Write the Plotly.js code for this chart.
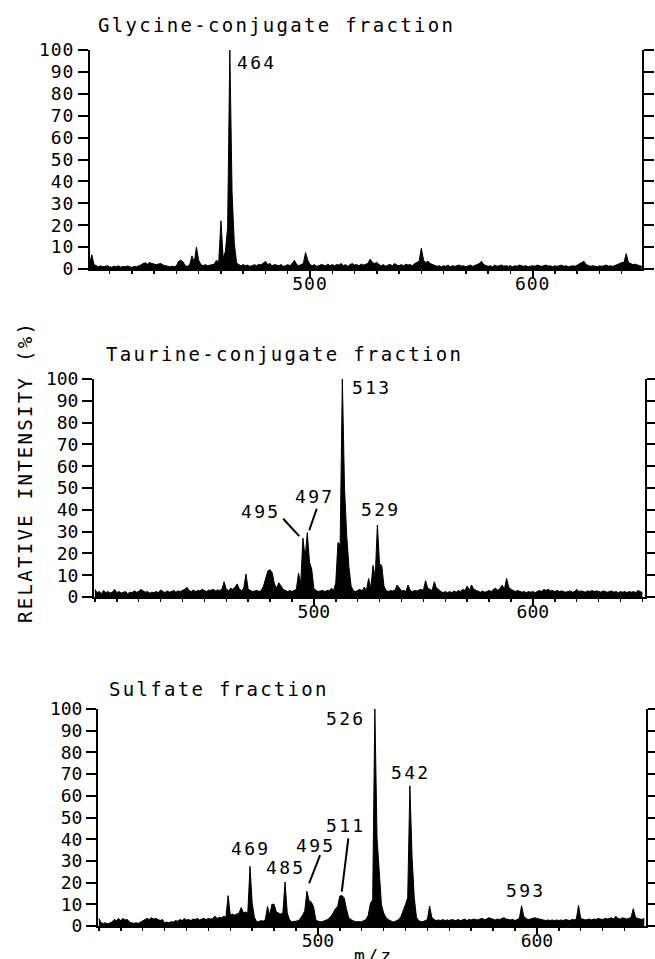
<!DOCTYPE html>
<html><head><meta charset="utf-8">
<script src="https://cdn.plot.ly/plotly-3.0.1.min.js"></script>
<style>
html,body{margin:0;padding:0;background:#fff;}
#chart{width:655px;height:959px;}
text.annotation-text{letter-spacing:2.3px;}
.xtick text,.ytick text{letter-spacing:1px;}
</style></head><body><div id="chart"></div>
<script>
// ---------- data (relative intensity %, one value per integer m/z) ----------
const glycineStartMz = 401;
const glycineIntensity = [
  2, 6.5, 2, 1.5, 1, 1.5, 1, 1.2, 1.5, 1,
  0.8, 1.3, 1, 1.5, 0.8, 1.2, 1, 1.4, 1, 0.7,
  1.2, 1, 1.5, 1.8, 2.5, 2.8, 2.2, 3, 2.5, 2.4,
  2, 2.3, 2.5, 1.8, 1.5, 1.2, 1, 1.3, 1, 1.5,
  3.5, 4, 3.2, 1.5, 1.2, 2, 6, 3, 10, 4,
  2, 1.5, 2, 1.5, 1.8, 2, 2.2, 4, 3, 22,
  5, 8, 19, 100, 35, 12, 3, 2, 1.5, 2,
  1.5, 1.8, 1.2, 1.5, 2, 1.5, 2.2, 1.8, 2.5, 3.5,
  2, 2.5, 1.5, 2, 1.8, 1.5, 2, 1.2, 1.5, 2,
  1.5, 2.5, 4, 2, 1.5, 2, 2.5, 7.5, 4, 2,
  1.5, 2, 1.2, 1.5, 2, 1.8, 1.5, 2.2, 1.5, 2,
  1.5, 2, 1.8, 2.5, 1.5, 2, 1.2, 2, 2.5, 1.8,
  2, 1.5, 2.2, 1.8, 2, 2.5, 4.5, 3, 2.5, 3,
  2, 1.5, 2, 1.2, 1.8, 2, 1.5, 2.5, 1.8, 1.5,
  2, 1.5, 2.2, 1.8, 2, 1.5, 2.5, 3, 3.5, 9.5,
  4, 3, 3.5, 2.5, 2, 1.5, 1.2, 1.5, 1, 1.5,
  1.2, 1.8, 1, 1.5, 1.2, 1.5, 1.8, 1.3, 1.5, 1,
  1.5, 1.8, 1.2, 1.5, 2, 2.5, 3.5, 2, 1.5, 1.2,
  1.5, 1, 1.8, 1.2, 1.5, 1.8, 1.3, 1.5, 1.2, 1.5,
  1, 1.5, 1.2, 1.8, 1.5, 1.2, 1.5, 1, 1.3, 1.5,
  1.2, 1.8, 1.5, 1.2, 1.5, 1.8, 1.3, 1.5, 1, 1.5,
  1.2, 1.5, 1.8, 1.2, 1.5, 1, 1.3, 1.5, 1.2, 1.8,
  2.5, 2.8, 3.5, 2, 1.5, 1.2, 1.5, 1.3, 1, 1.5,
  1.2, 1.5, 1.8, 1.3, 1.5, 1.2, 1.8, 2, 2.5, 3,
  3, 7, 3, 2.5, 2, 2.2, 1.8, 1.5, 1.2
];

const taurineStartMz = 400;
const taurineIntensity = [
  3.5, 2, 2.5, 1.5, 3, 2, 2.5, 1.8, 2.2, 3.5,
  2, 2.5, 1.8, 2, 2.5, 1.5, 2.2, 2, 2.8, 2.2,
  2.5, 3.5, 3, 2.2, 2.5, 1.8, 2.2, 2, 2.5, 2,
  3.2, 2.5, 2, 2.8, 2.2, 2.5, 3, 2.2, 2.8, 2.5,
  3, 3.5, 4.5, 3, 2.5, 3.2, 2.5, 3, 2.8, 3.5,
  3, 2.5, 3.2, 3, 3.5, 2.8, 3.2, 3, 3.5, 7,
  3.5, 3, 4, 3.5, 4.5, 6, 3.5, 3, 4, 10.5,
  3.5, 3, 2.5, 2.8, 3, 2.5, 3, 5, 8, 12,
  12.5, 11, 6, 4, 6.5, 5, 3.5, 3, 2.5, 3,
  2.5, 3, 3.5, 11, 6, 27, 18, 29.5, 16, 12.8,
  4, 3, 2.5, 2.8, 3, 2.5, 3, 2.8, 4, 3,
  6.5, 25, 24, 100, 50, 28, 14, 5, 3, 2.5,
  3, 3.5, 2.8, 4.5, 3, 8.5, 4, 14.5, 9, 33,
  15, 14.5, 5, 3, 2.5, 3, 2.8, 3, 5.5, 4,
  2.8, 3, 2.5, 5.5, 3, 2.5, 3, 2.8, 3, 3.5,
  3, 7.5, 4, 3.5, 3, 7, 4, 3.5, 2.5, 2,
  2.5, 2, 2.5, 2, 2.8, 2.2, 3, 2.5, 3.5, 3,
  5, 3, 5.5, 3.5, 3, 2.5, 2.2, 2.8, 2.2, 2.5,
  3, 2.5, 3.5, 4, 3, 4, 5.5, 3.5, 8.5, 4.5,
  3.5, 3, 2.5, 3, 2.5, 2.2, 2.5, 2, 2.5, 2.2,
  2.5, 2, 2.5, 3, 2.5, 3.5, 3, 3.5, 2.8, 3,
  2.5, 3, 2.5, 2.8, 2.5, 2.2, 2.5, 2.8, 2.2, 2.5,
  3.5, 2.5, 2.8, 2.5, 2.2, 2.8, 2.5, 3, 2.5, 2.8,
  2.5, 2.2, 2.8, 2.5, 2.2, 2.5, 2.8, 2.2, 2.5, 2,
  2.5, 2.2, 2.5, 2, 2.5, 2.2, 2.5, 2, 3, 2.5,
  2
];

const sulfateStartMz = 400;
const sulfateIntensity = [
  3.5, 1.5, 1.2, 1.5, 1, 1.5, 1.8, 3, 2.5, 3.5,
  2.5, 3.5, 2.8, 3, 1.8, 1.5, 1.2, 1.5, 1.2, 1.8,
  2.5, 3.2, 3.5, 3, 3.8, 3.2, 3.5, 3, 2.5, 3,
  1.5, 1.8, 1.5, 2, 1.8, 2.5, 2.2, 3, 2.5, 3.5,
  2.8, 3, 2.5, 3.2, 3, 3.5, 2.8, 3.2, 3.5, 3,
  3.5, 3.2, 3.5, 4.5, 3.5, 4, 3.8, 4.5, 4, 14,
  5, 5.5, 5, 5.5, 6, 8.5, 6, 6.5, 6, 27.5,
  10.5, 4, 2, 2, 2.5, 2.2, 3, 9, 5, 10,
  10, 6.5, 6, 5.5, 6, 20.3, 6, 3, 2, 2,
  2.2, 2.5, 3.5, 5, 7, 16, 11.5, 11, 9, 3,
  2.2, 2, 2, 2.5, 2.8, 3.5, 4.5, 6, 8, 9,
  13.8, 14, 13, 8, 4, 3, 2.5, 2, 2, 2,
  2, 2.5, 3, 5, 10.6, 12, 100, 40.6, 23.5, 10,
  6, 4, 3, 2.5, 2, 2, 2.5, 3, 4.5, 7,
  10, 13, 64.6, 31.6, 13, 4, 2.5, 2, 2, 2.5,
  3, 9.2, 4, 3, 2.5, 2.8, 2.5, 3, 2.5, 2.8,
  2.5, 3, 2.8, 2.5, 3, 2.5, 2.8, 3.2, 2.5, 3,
  2.8, 3.2, 3, 2.8, 3.2, 3.5, 3, 3.2, 3.8, 3.5,
  3, 2.8, 3.2, 3, 3.5, 3.8, 3.2, 3, 2.8, 3,
  2.5, 3, 3.5, 9.3, 4.5, 3.5, 3, 3.2, 3.5, 3.8,
  3.5, 3.2, 3, 2.8, 2.5, 2.8, 2.5, 2.8, 2.5, 2.8,
  2.5, 2.8, 2.5, 3, 2.8, 2.5, 3, 2.8, 3.2, 9.5,
  3.5, 3, 2.8, 3, 3.2, 2.8, 3.2, 3, 3.5, 3.2,
  3, 3.5, 3.2, 3.5, 3.8, 3.2, 4.5, 3.5, 3.2, 3.8,
  3.5, 3.2, 3.5, 4, 8, 4, 3.5, 3.2, 3, 3.5
];

const panelTitles = ['Glycine-conjugate fraction', 'Taurine-conjugate fraction', 'Sulfate fraction'];
const xTickValues = [500, 600];
const xTickLabels = ['500', '600'];
const glycinePeakLabels = ['464'];
const taurinePeakLabels = ['513', '495', '497', '529'];
const sulfatePeakLabels = ['526', '542', '511', '495', '485', '469', '593'];
const yAxisTitle = 'RELATIVE INTENSITY (%)';
const xAxisTitle = 'm/z';

// ---------- drawing ----------
const FONT = 'DejaVu Sans Mono, Liberation Mono, monospace';
const W = 655, H = 959;
const px = v => v / W;
const py = v => 1 - v / H;

function spectrum(start, vals, xa, ya) {
  return {
    type: 'scatter', mode: 'lines',
    x: vals.map((_, i) => start + i), y: vals,
    xaxis: xa, yaxis: ya,
    line: { color: '#000', width: 1 },
    fill: 'tozeroy', fillcolor: '#000',
    hoverinfo: 'skip'
  };
}

const traces = [
  spectrum(glycineStartMz, glycineIntensity, 'x', 'y'),
  spectrum(taurineStartMz, taurineIntensity, 'x2', 'y2'),
  spectrum(sulfateStartMz, sulfateIntensity, 'x3', 'y3')
];

function xAxis(range, domain, anchor) {
  return {
    range, domain, anchor,
    showline: true, linecolor: '#000', linewidth: 2,
    ticks: 'outside', ticklen: 7, tickwidth: 2, tickcolor: '#000',
    tickmode: 'array', tickvals: xTickValues, ticktext: xTickLabels,
    ticklabelstandoff: -10,
    minor: { tickmode: 'linear', tick0: 400, dtick: 10, ticks: 'outside', ticklen: 3, tickwidth: 1.5, tickcolor: '#000', showgrid: false },
    showgrid: false, zeroline: false, fixedrange: true,
    tickfont: { family: FONT, size: 18, color: '#000' }
  };
}
function yAxis(domain, anchor) {
  return {
    range: [0, 100], domain, anchor,
    tickmode: 'linear', tick0: 0, dtick: 10,
    showline: true, linecolor: '#000', linewidth: 2, mirror: 'ticks',
    ticks: 'outside', ticklen: 10, tickwidth: 2, tickcolor: '#000',
    showgrid: false, zeroline: false, fixedrange: true,
    tickfont: { family: FONT, size: 18, color: '#000' }
  };
}

const labelFont = { family: FONT, size: 18, color: '#000' };
const titleFont = { family: FONT, size: 19, color: '#000' };
function lab(text, x, y, xr, yr) {
  return { text, x, y, xref: xr, yref: yr, showarrow: false, xanchor: 'center', yanchor: 'middle', font: labelFont };
}
function ptitle(text, x, y) {
  return { text, x: px(x), y: py(y), xref: 'paper', yref: 'paper', showarrow: false, xanchor: 'center', yanchor: 'middle', font: titleFont };
}

const annotations = [
  ptitle(panelTitles[0], 276, 25),
  ptitle(panelTitles[1], 284.5, 354),
  ptitle(panelTitles[2], 219, 689),
  lab(glycinePeakLabels[0], 476.1, 94.5, 'x', 'y'),
  lab(taurinePeakLabels[0], 526.4, 96, 'x2', 'y2'),
  lab(taurinePeakLabels[1], 475.6, 39, 'x2', 'y2'),
  lab(taurinePeakLabels[2], 500.1, 46, 'x2', 'y2'),
  lab(taurinePeakLabels[3], 530.2, 40, 'x2', 'y2'),
  lab(sulfatePeakLabels[0], 512.8, 95.4, 'x3', 'y3'),
  lab(sulfatePeakLabels[1], 542.1, 70.7, 'x3', 'y3'),
  lab(sulfatePeakLabels[2], 512.6, 46.3, 'x3', 'y3'),
  lab(sulfatePeakLabels[3], 499.1, 37, 'x3', 'y3'),
  lab(sulfatePeakLabels[4], 485.4, 27, 'x3', 'y3'),
  lab(sulfatePeakLabels[5], 469, 35.5, 'x3', 'y3'),
  lab(sulfatePeakLabels[6], 594.6, 16.2, 'x3', 'y3'),
  { text: yAxisTitle, x: px(25), y: py(472), xref: 'paper', yref: 'paper', showarrow: false,
    xanchor: 'center', yanchor: 'middle', textangle: -90, font: titleFont },
  { text: xAxisTitle, x: px(373), y: py(943), xref: 'paper', yref: 'paper', showarrow: false,
    xanchor: 'center', yanchor: 'top', font: labelFont }
];

function leader(x0, y0, x1, y1, xr, yr) {
  return { type: 'line', x0, y0, x1, y1, xref: xr, yref: yr, line: { color: '#000', width: 2 } };
}
const shapes = [
  leader(486.0, 35.9, 493.3, 27.9, 'x2', 'y2'),
  leader(501.3, 40.5, 497.9, 30.6, 'x2', 'y2'),
  leader(513.9, 40.4, 510.9, 15.8, 'x3', 'y3'),
  leader(501.0, 32.7, 496.0, 19.7, 'x3', 'y3')
];

const layout = {
  width: W, height: H,
  margin: { l: 0, r: 0, t: 0, b: 0 },
  paper_bgcolor: '#fff', plot_bgcolor: '#fff',
  showlegend: false,
  font: { family: FONT, color: '#000' },
  xaxis: xAxis([401.2, 649.1], [px(90), px(642)], 'y'),
  yaxis: yAxis([py(269), py(50)], 'x'),
  xaxis2: xAxis([399.6, 651.2], [px(94), px(645)], 'y2'),
  yaxis2: yAxis([py(597), py(379)], 'x2'),
  xaxis3: xAxis([399.6, 649.8], [px(98), px(646)], 'y3'),
  yaxis3: yAxis([py(926), py(709)], 'x3'),
  annotations, shapes
};

Plotly.newPlot('chart', traces, layout, { staticPlot: true, displayModeBar: false });
</script></body></html>
